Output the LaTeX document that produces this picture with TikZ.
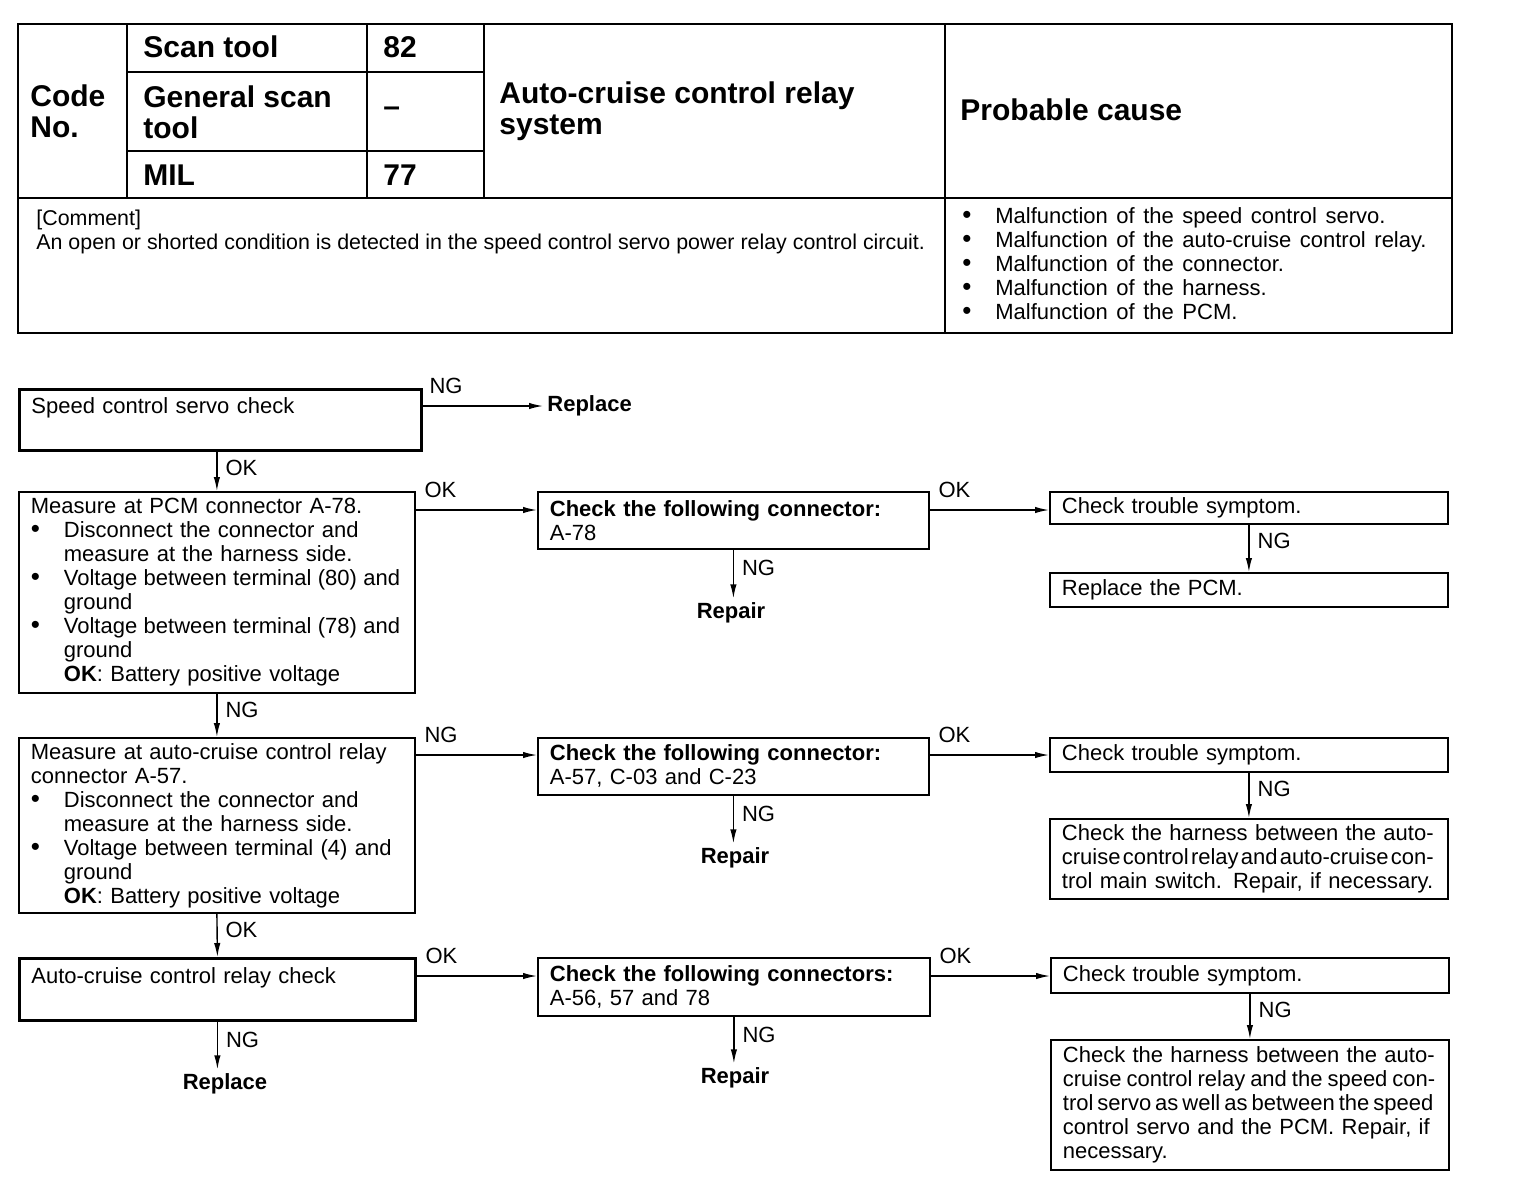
\documentclass[tikz,border=0pt]{standalone}
\usepackage{fontspec}
\setmainfont{Liberation Sans}
\newfontfamily\flowfont{Liberation Sans}[WordSpace=1.4]
\usetikzlibrary{arrows.meta, positioning}
\newcommand{\blt}{\makebox[16.5pt][l]{\fontsize{13}{12}\selectfont\textbullet}}
\newcommand{\bindent}{\hspace*{16.5pt}}
\newcommand{\tightsp}[2]{{\spaceskip=#1\relax #2}}

\begin{document}
\begin{tikzpicture}[x=0.5pt, y=-0.5pt,
        hdr/.style={font=\fontsize{15}{15.5}\selectfont\bfseries, anchor=west, inner sep=0pt, align=left},
        txt/.style={font=\flowfont\fontsize{11}{12}\selectfont, inner sep=0pt, align=left},
        box/.style={draw, line width=0.9pt, anchor=north west, inner xsep=6pt, inner ysep=2pt, align=left, font=\flowfont\fontsize{11}{12}\selectfont},
        thickbox/.style={box, line width=1.4pt},
        arr/.style={line width=0.7pt, -{Latex[length=7pt, width=3.2pt]}},
        lbl/.style={font=\flowfont\fontsize{11}{12}\selectfont, inner sep=1pt},
        res/.style={font=\flowfont\fontsize{11}{12}\selectfont\bfseries, inner sep=2pt}
    ]
    \useasboundingbox (0,0) rectangle (1520,1194);

    % header table
    \draw[line width=1.4pt] (18,24) rectangle (1452,333);
    \draw[line width=0.8pt] (127,24) -- (127,198) (367,24) -- (367,198) (484,24) -- (484,198)
        (945,24) -- (945,333) (127,72) -- (484,72) (127,151) -- (484,151);
    \draw[line width=1.2pt] (18,198) -- (1452,198);

    \node[hdr] (code) at (30,111) {Code\\No.};
    \node[hdr] (scan) at (143,47) {Scan tool};
    \node[hdr] (scanv) at (383,47) {82};
    \node[hdr] (gen) at (143,112) {General scan\\tool};
    \node[hdr] (genv) at (383,112) {--};
    \node[hdr] (mil) at (143,175) {MIL};
    \node[hdr] (milv) at (383,175) {77};
    \node[hdr] (sys) at (499,111) {Auto-cruise control relay\\system};
    \node[hdr] (cause) at (960,110) {Probable cause};

    \node[txt, anchor=north west, font=\fontsize{10.7}{12}\selectfont] (comment) at (36,210)
        {[Comment]\\An open or shorted condition is detected in the speed control servo power relay control circuit.};
    \node[txt, anchor=north west] (causes) at (962,207)
        {\blt Malfunction of the speed control servo.\\
         \blt Malfunction of the auto-cruise control relay.\\
         \blt Malfunction of the connector.\\
         \blt Malfunction of the harness.\\
         \blt Malfunction of the PCM.};

    % flow chart
    \node[thickbox, text width=189pt, minimum height=30.5pt, text height=8pt, text depth=14pt] (servo) at (18,388)
        {Speed control servo check};
    \node[res, anchor=west] (repl1) at (543,406) {Replace};

    \node[box, text width=186pt, minimum height=100.5pt] (pcm) at (18,491)
        {Measure at PCM connector A-78.\\
         \blt Disconnect the connector and\\
         \bindent measure at the harness side.\\
         \blt \tightsp{3.2pt}{Voltage between terminal (80) and}\\
         \bindent ground\\
         \blt \tightsp{3.2pt}{Voltage between terminal (78) and}\\
         \bindent ground\\
         \bindent \textbf{OK}: Battery positive voltage};
    \node[box, text width=183.5pt, minimum height=28.5pt] (conn1) at (537,491)
        {\textbf{Check the following connector:}\\A-78};
    \node[box, text width=187pt, minimum height=16pt] (sym1) at (1049,491) {Check trouble symptom.};
    \node[box, text width=187pt, minimum height=17pt] (pcmrep) at (1049,572) {Replace the PCM.};
    \node[res] (rep1) at (731,613) {Repair};

    \node[box, text width=186pt, minimum height=87.5pt] (relay) at (18,737)
        {Measure at auto-cruise control relay\\
         connector A-57.\\
         \blt Disconnect the connector and\\
         \bindent measure at the harness side.\\
         \blt Voltage between terminal (4) and\\
         \bindent ground\\
         \bindent \textbf{OK}: Battery positive voltage};
    \node[box, text width=183.5pt, minimum height=28.5pt] (conn2) at (537,737)
        {\textbf{Check the following connector:}\\A-57, C-03 and C-23};
    \node[box, text width=187pt, minimum height=17pt] (sym2) at (1049,737) {Check trouble symptom.};
    \node[box, text width=187pt, minimum height=40pt] (harn1) at (1049,818)
        {Check the harness between the auto-\\
         \tightsp{1.1pt}{cruise control relay and auto-cruise con-}\\
         trol main switch. Repair, if necessary.};
    \node[res] (rep2) at (735,858) {Repair};

    \node[thickbox, text width=186pt, minimum height=31pt, text height=8pt, text depth=14pt] (relchk) at (18,957)
        {Auto-cruise control relay check};
    \node[res] (repl2) at (225,1084) {Replace};
    \node[box, text width=184pt, minimum height=29pt] (conn3) at (537,957)
        {\textbf{Check the following connectors:}\\A-56, 57 and 78};
    \node[box, text width=187pt, minimum height=17.5pt] (sym3) at (1050,957) {Check trouble symptom.};
    \node[box, text width=187pt, minimum height=65pt] (harn2) at (1050,1039)
        {Check the harness between the auto-\\
         \tightsp{2.5pt}{cruise control relay and the speed con-}\\
         \tightsp{2pt}{trol servo as well as between the speed}\\
         control servo and the PCM. Repair, if\\
         necessary.};
    \node[res] (rep3) at (735,1078) {Repair};

    % connectors
    \draw[arr] ([yshift=-9pt]servo.north east) -- (repl1.west) node[lbl, pos=0, above right=5pt and 2pt] {NG};
    \draw[arr] (servo.south -| pcm.north) -- (pcm.north) node[lbl, pos=0, below right=3pt and 3pt] {OK};
    \draw[arr] ([yshift=-9.5pt]pcm.north east) -- ([yshift=-9.5pt]conn1.north west) node[lbl, pos=0, above right=5pt and 3pt] {OK};
    \draw[arr] ([yshift=-9.5pt]conn1.north east) -- ([yshift=-9.5pt]sym1.north west) node[lbl, pos=0, above right=5pt and 3pt] {OK};
    \draw[arr] (conn1.south) -- (conn1.south |- rep1.north) node[lbl, pos=0, below right=4pt and 3pt] {NG};
    \draw[arr] (sym1.south) -- (pcmrep.north) node[lbl, pos=0, below right=3pt and 3pt] {NG};

    \draw[arr] (pcm.south) -- (relay.north) node[lbl, pos=0, below right=3pt and 3pt] {NG};
    \draw[arr] ([yshift=-9pt]relay.north east) -- ([yshift=-9pt]conn2.north west) node[lbl, pos=0, above right=5pt and 3pt] {NG};
    \draw[arr] ([yshift=-9pt]conn2.north east) -- ([yshift=-9pt]sym2.north west) node[lbl, pos=0, above right=5pt and 3pt] {OK};
    \draw[arr] (conn2.south) -- (conn2.south |- rep2.north) node[lbl, pos=0, below right=4pt and 3pt] {NG};
    \draw[arr] (sym2.south) -- (harn1.north) node[lbl, pos=0, below right=3pt and 3pt] {NG};

    \draw[arr] (relay.south) -- (relchk.north) node[lbl, pos=0, below right=3pt and 3pt] {OK};
    \draw[arr] (relchk.south) -- (relchk.south |- repl2.north) node[lbl, pos=0, below right=4pt and 3pt] {NG};
    \draw[arr] ([yshift=-9.5pt]relchk.north east) -- ([yshift=-9.5pt]conn3.north west) node[lbl, pos=0, above right=5pt and 3pt] {OK};
    \draw[arr] ([yshift=-9.5pt]conn3.north east) -- ([yshift=-9.5pt]sym3.north west) node[lbl, pos=0, above right=5pt and 3pt] {OK};
    \draw[arr] (conn3.south) -- (conn3.south |- rep3.north) node[lbl, pos=0, below right=4pt and 3pt] {NG};
    \draw[arr] (sym3.south) -- (harn2.north) node[lbl, pos=0, below right=3pt and 3pt] {NG};
\end{tikzpicture}
\end{document}
